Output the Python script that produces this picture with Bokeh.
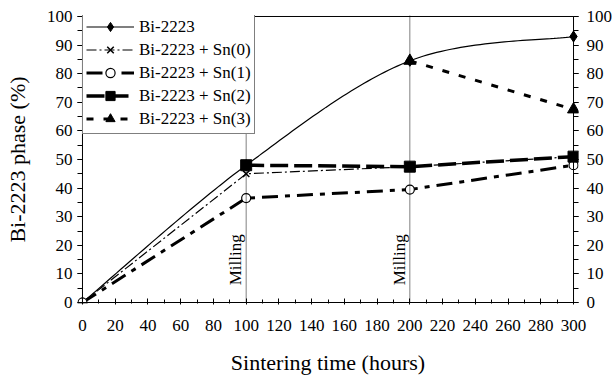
import numpy as np
from bokeh.plotting import figure
from bokeh.models import LinearAxis, Range1d, FixedTicker, Span, Label, BoxAnnotation
from bokeh.embed import file_html
from bokeh.resources import INLINE

# ---- data ----
hours = [0, 100, 200, 300]
bi2223 = [0, 48, 84.5, 93]
sn0_x = [0, 100, 200, 300]
sn0_y = [0, 45, 47.5, 51]
sn1_x = [0, 100, 200, 300]
sn1_y = [0, 36.5, 39.5, 48]
sn2_x = [100, 200, 300]
sn2_y = [48, 47.5, 51]
sn3_x = [200, 300]
sn3_y = [84.5, 67.5]
milling_x = [100, 200]
x_ticks = list(range(0, 301, 20))
x_minor = list(range(0, 301, 10))
y_ticks = list(range(0, 101, 10))
y_minor = list(range(0, 101, 5))

FONT = "Liberation Serif"
X0, X1 = 0, 300
Y0, Y1 = 0, 100

# ---- layout (pixels) ----
W, H = 615, 377
AX_L, AX_R, AX_T, AX_B = 82, 575, 16, 305   # axis box in page pixels
PAD = 5                                      # room for markers at the side edges
PADY = 1                                     # keeps the box lines inside the frame
pad_units = PAD * (X1 - X0) / (AX_R - AX_L)
pady_units = PADY * (Y1 - Y0) / (AX_B - AX_T)


def smooth(xs, ys, n=40):
    # Catmull-Rom style smoothing between the given points
    P = np.column_stack([xs, ys]).astype(float)
    out = []
    for i in range(len(P) - 1):
        p0 = P[i - 1] if i > 0 else P[i]
        p1, p2 = P[i], P[i + 1]
        p3 = P[i + 2] if i + 2 < len(P) else P[i + 1]
        c1 = p1 + (p2 - p0) / 6.0
        c2 = p2 - (p3 - p1) / 6.0
        t = np.linspace(0, 1, n)[:, None]
        seg = ((1 - t) ** 3) * p1 + 3 * ((1 - t) ** 2) * t * c1 + 3 * (1 - t) * t ** 2 * c2 + t ** 3 * p2
        out.append(seg if i == 0 else seg[1:])
    s = np.vstack(out)
    return s[:, 0], s[:, 1]


p = figure(width=W, height=H, output_backend="svg", toolbar_location=None,
           x_range=Range1d(X0 - pad_units, X1 + pad_units),
           y_range=Range1d(Y0 - pady_units, Y1 + pady_units),
           min_border_left=AX_L - PAD, min_border_right=W - AX_R - PAD,
           min_border_top=AX_T - PADY, min_border_bottom=H - AX_B - PADY)
p.background_fill_color = "white"
p.border_fill_color = "white"
p.outline_line_color = None
p.xgrid.visible = False
p.ygrid.visible = False

# axes box
p.add_layout(BoxAnnotation(left=X0, right=X1, bottom=Y0, top=Y1,
                           fill_alpha=0, fill_color=None,
                           line_color="black", line_alpha=1.0, line_width=1))

xa = p.xaxis[0]
xa.ticker = FixedTicker(ticks=x_ticks, minor_ticks=x_minor)
xa.axis_label = "Sintering time (hours)"
xa.axis_line_color = None
xa.major_tick_in = 4 + PADY
xa.major_tick_out = 1
xa.minor_tick_in = 3 + PADY
xa.minor_tick_out = 0

ya = p.yaxis[0]
ya.ticker = FixedTicker(ticks=y_ticks, minor_ticks=y_minor)
ya.axis_label = "Bi-2223 phase (%)"

ra = LinearAxis(ticker=FixedTicker(ticks=y_ticks, minor_ticks=y_minor))
p.add_layout(ra, "right")

for ax in [ya, ra]:
    ax.axis_line_color = None
    ax.major_tick_in = PAD
    ax.major_tick_out = 0
    ax.minor_tick_in = PAD
    ax.minor_tick_out = 0

for ax in [xa, ya, ra]:
    ax.major_tick_line_color = "black"
    ax.minor_tick_line_color = "black"
    ax.major_label_text_font = FONT
    ax.major_label_text_font_size = "17px"
    ax.major_label_text_color = "black"
    ax.axis_label_text_font = FONT
    ax.axis_label_text_font_size = "22px"
    ax.axis_label_text_font_style = "normal"
    ax.axis_label_text_color = "black"
xa.major_label_standoff = 15
xa.axis_label_standoff = 16
ya.major_label_standoff = 5
ya.axis_label_standoff = 14
ra.major_label_standoff = 8

# milling lines
for mx in milling_x:
    p.add_layout(Span(location=mx, dimension="height", line_color="black",
                      line_alpha=1.0, line_dash="1 1", line_width=1))
    p.add_layout(Label(x=mx, y=6, text="Milling", angle=np.pi / 2,
                       text_font=FONT, text_font_size="17px", text_color="black",
                       text_align="left", text_baseline="bottom", x_offset=-1))

# series
bx, by = smooth(hours, bi2223)
p.line(bx, by, line_color="black", line_width=1.2, legend_label="Bi-2223")
p.scatter(hours, bi2223, marker="diamond", size=11, color="black", legend_label="Bi-2223")

p.line(sn0_x, sn0_y, line_color="black", line_width=1.2, line_dash="10 3 2 3",
       legend_label="Bi-2223 + Sn(0)")
p.scatter(sn0_x, sn0_y, marker="x", size=9, line_color="black", line_width=1.5,
          legend_label="Bi-2223 + Sn(0)")

p.line(sn1_x, sn1_y, line_color="black", line_width=3, line_dash="16 7 5 7",
       legend_label="Bi-2223 + Sn(1)")
p.scatter(sn1_x, sn1_y, marker="circle", size=9, line_color="black", fill_color="white",
          line_width=1.2, legend_label="Bi-2223 + Sn(1)")

p.line(sn2_x, sn2_y, line_color="black", line_width=3.5, line_dash="18 6",
       legend_label="Bi-2223 + Sn(2)")
p.scatter(sn2_x, sn2_y, marker="square", size=11, color="black",
          legend_label="Bi-2223 + Sn(2)")

p.line(sn3_x, sn3_y, line_color="black", line_width=3, line_dash="7 10",
       legend_label="Bi-2223 + Sn(3)")
p.scatter(sn3_x, sn3_y, marker="triangle", size=12, color="black",
          legend_label="Bi-2223 + Sn(3)")

lg = p.legend[0]
ITEM_H, LG_PADDING, N = 23, 3, 5
lg_h = 2 * LG_PADDING + N * ITEM_H
lg.location = (PAD, (AX_B - AX_T) + PADY - lg_h)
lg.margin = 0
lg.padding = LG_PADDING
lg.spacing = 0
lg.glyph_width = 48
lg.glyph_height = ITEM_H
lg.label_height = ITEM_H
lg.label_standoff = 5
lg.label_text_font = FONT
lg.label_text_font_size = "17px"
lg.label_text_color = "black"
lg.border_line_color = "black"
lg.border_line_width = 1
lg.background_fill_alpha = 1

open("out.html", "w").write(file_html(p, INLINE))
